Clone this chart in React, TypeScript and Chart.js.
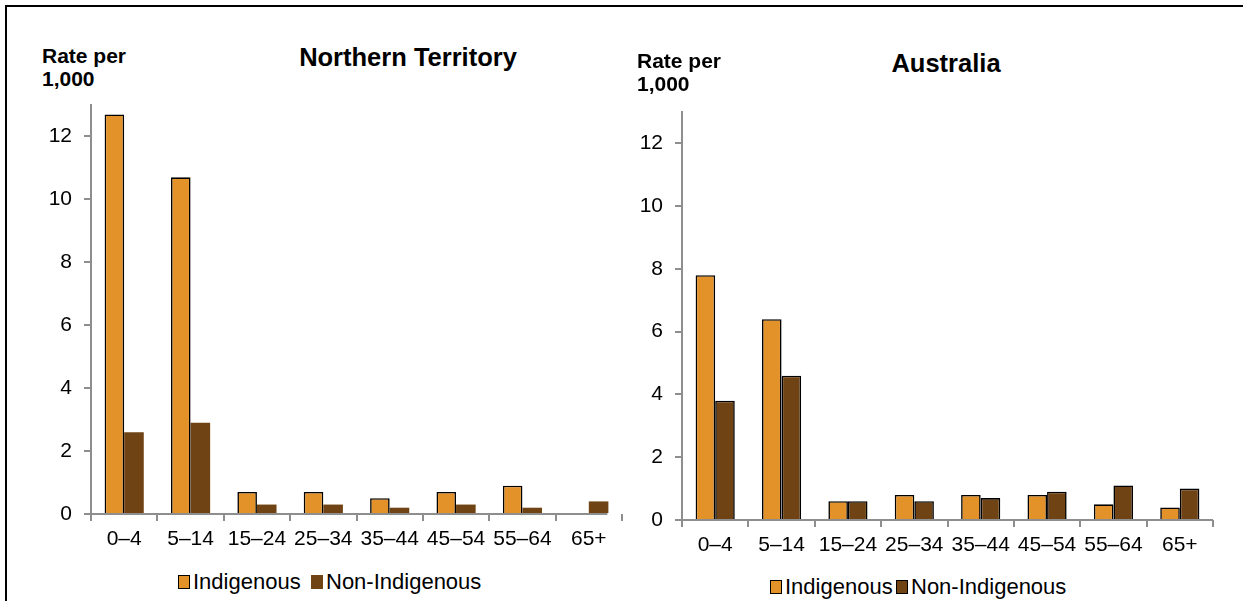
import React, { useEffect, useRef } from "react";
import { Chart, registerables } from "chart.js";

Chart.register(...registerables);

// ---- data ----
const categories = ["0–4", "5–14", "15–24", "25–34", "35–44", "45–54", "55–64", "65+"];
const ntIndigenous = [12.7, 10.7, 0.7, 0.7, 0.5, 0.7, 0.9, null];
const ntNonIndigenous = [2.6, 2.9, 0.3, 0.3, 0.2, 0.3, 0.2, 0.4];
const ausIndigenous = [7.8, 6.4, 0.6, 0.8, 0.8, 0.8, 0.5, 0.4];
const ausNonIndigenous = [3.8, 4.6, 0.6, 0.6, 0.7, 0.9, 1.1, 1.0];
const yTickValues = [0, 2, 4, 6, 8, 10, 12];
const yMax = 13;
const seriesNames = ["Indigenous", "Non-Indigenous"];

const ORANGE = "#E39229";
const BROWN = "#6F4313";
const AXIS = "#8E8E8E";
const FONT = "'Liberation Sans', Arial, sans-serif";

const axisLinePlugin = {
  id: "axisLine",
  afterDraw(chart: any, _args: any, opts: any) {
    const { ctx, chartArea } = chart;
    const n = categories.length;
    const endFrac = (opts && opts.end) != null ? opts.end : n;
    const xEnd = chartArea.left + ((chartArea.right - chartArea.left) * endFrac) / n;
    ctx.save();
    ctx.strokeStyle = AXIS;
    ctx.lineWidth = 2;
    ctx.beginPath();
    ctx.moveTo(chartArea.left, chartArea.bottom);
    ctx.lineTo(xEnd, chartArea.bottom);
    ctx.stroke();
    ctx.restore();
  },
};

type Props = {
  ind: (number | null)[];
  non: (number | null)[];
  nonBorder: boolean;
  width: number;
  height: number;
  yWidth: number;
  padTop: number;
  padRight: number;
  axisEnd: number;
  hideLastTick: boolean;
};

function BarChart(p: Props) {
  const ref = useRef<HTMLCanvasElement | null>(null);
  useEffect(() => {
    if (!ref.current) return;
    const chart = new Chart(ref.current, {
      type: "bar",
      data: {
        labels: categories,
        datasets: [
          {
            label: seriesNames[0],
            data: p.ind as any,
            backgroundColor: ORANGE,
            borderColor: "#000000",
            borderWidth: 1.6,
            borderSkipped: "start",
          },
          {
            label: seriesNames[1],
            data: p.non as any,
            backgroundColor: BROWN,
            borderColor: "#000000",
            borderWidth: p.nonBorder ? 1.6 : 0,
            borderSkipped: "start",
          },
        ],
      },
      options: {
        responsive: false,
        animation: false,
        devicePixelRatio: 1,
        layout: { padding: { top: p.padTop, right: p.padRight, left: 0, bottom: 0 } },
        plugins: {
          legend: { display: false },
          title: { display: false },
          tooltip: { enabled: false },
          axisLine: { end: p.axisEnd },
        } as any,
        datasets: {
          bar: { barPercentage: 1, categoryPercentage: 0.59 },
        } as any,
        scales: {
          x: {
            offset: true,
            border: { display: false },
            grid: {
              offset: true,
              drawOnChartArea: false,
              drawTicks: true,
              tickLength: 7,
              lineWidth: 2,
              color: (ctx: any) =>
                p.hideLastTick && ctx.index === categories.length ? "rgba(0,0,0,0)" : AXIS,
            },
            ticks: {
              color: "#000000",
              font: { family: FONT, size: 21 },
              padding: 6,
              maxRotation: 0,
              autoSkip: false,
            },
            afterFit: (scale: any) => {
              scale.height = 40;
              scale.paddingLeft = 0;
              scale.paddingRight = 0;
            },
          },
          y: {
            min: 0,
            max: yMax,
            border: { display: true, color: AXIS, width: 2 },
            grid: {
              drawOnChartArea: false,
              drawTicks: true,
              tickLength: 7,
              lineWidth: 2,
              color: AXIS,
            },
            ticks: {
              color: "#000000",
              font: { family: FONT, size: 21 },
              padding: 12,
            },
            afterBuildTicks: (scale: any) => {
              scale.ticks = yTickValues.map((v) => ({ value: v }));
            },
            afterFit: (scale: any) => {
              scale.width = p.yWidth;
              scale.paddingTop = 0;
              scale.paddingBottom = 0;
            },
          },
        },
      },
      plugins: [axisLinePlugin],
    });
    return () => chart.destroy();
  }, []);
  return <canvas ref={ref} width={p.width} height={p.height} style={{ width: p.width, height: p.height, display: "block" }} />;
}

function LegendItem({ left, top, color, border, text }: { left: number; top: number; color: string; border: boolean; text: string }) {
  return (
    <div style={{ position: "absolute", left, top, display: "flex", alignItems: "center", whiteSpace: "nowrap" }}>
      <span
        style={{
          display: "inline-block",
          width: 12,
          height: 14,
          boxSizing: "border-box",
          background: color,
          border: border ? "1.6px solid #000" : "none",
          marginRight: 3,
        }}
      />
      <span style={{ fontFamily: FONT, fontSize: 22, color: "#000", lineHeight: "22px" }}>{text}</span>
    </div>
  );
}

export default function App() {
  const abs = (x: number, y: number): React.CSSProperties => ({ position: "absolute", left: x, top: y });
  const titleStyle: React.CSSProperties = {
    position: "absolute",
    transform: "translate(-50%, -50%)",
    fontFamily: FONT,
    fontWeight: "bold",
    fontSize: 25.5,
    whiteSpace: "nowrap",
    color: "#000",
  };
  const unitStyle: React.CSSProperties = {
    position: "absolute",
    fontFamily: FONT,
    fontWeight: "bold",
    fontSize: 21,
    lineHeight: "23px",
    color: "#000",
    whiteSpace: "nowrap",
  };
  return (
    <div style={{ position: "absolute", left: 0, top: 0, width: 1243, height: 601, overflow: "hidden", background: "#fff" }}>
      <div
        style={{
          position: "absolute",
          left: 5,
          top: 5,
          width: 1300,
          height: 700,
          borderTop: "2.5px solid #000",
          borderLeft: "2.5px solid #000",
        }}
      />
      <div style={abs(0, 90)}>
        <BarChart
          ind={ntIndigenous}
          non={ntNonIndigenous}
          nonBorder={false}
          width={640}
          height={464}
          yWidth={91}
          padTop={15}
          padRight={18}
          axisEnd={7.78}
          hideLastTick={true}
        />
      </div>
      <div style={abs(620, 100)}>
        <BarChart
          ind={ausIndigenous}
          non={ausNonIndigenous}
          nonBorder={true}
          width={623}
          height={460}
          yWidth={62}
          padTop={12}
          padRight={30}
          axisEnd={8}
          hideLastTick={false}
        />
      </div>
      <div style={{ ...titleStyle, left: 408, top: 57 }}>Northern Territory</div>
      <div style={{ ...titleStyle, left: 946, top: 63 }}>Australia</div>
      <div style={{ ...unitStyle, left: 42, top: 44 }}>
        Rate per
        <br />
        1,000
      </div>
      <div style={{ ...unitStyle, left: 637, top: 49 }}>
        Rate per
        <br />
        1,000
      </div>
      <LegendItem left={178} top={571} color={ORANGE} border={true} text={seriesNames[0]} />
      <LegendItem left={311} top={571} color={BROWN} border={false} text={seriesNames[1]} />
      <LegendItem left={770} top={576} color={ORANGE} border={true} text={seriesNames[0]} />
      <LegendItem left={896} top={576} color={BROWN} border={true} text={seriesNames[1]} />
    </div>
  );
}
